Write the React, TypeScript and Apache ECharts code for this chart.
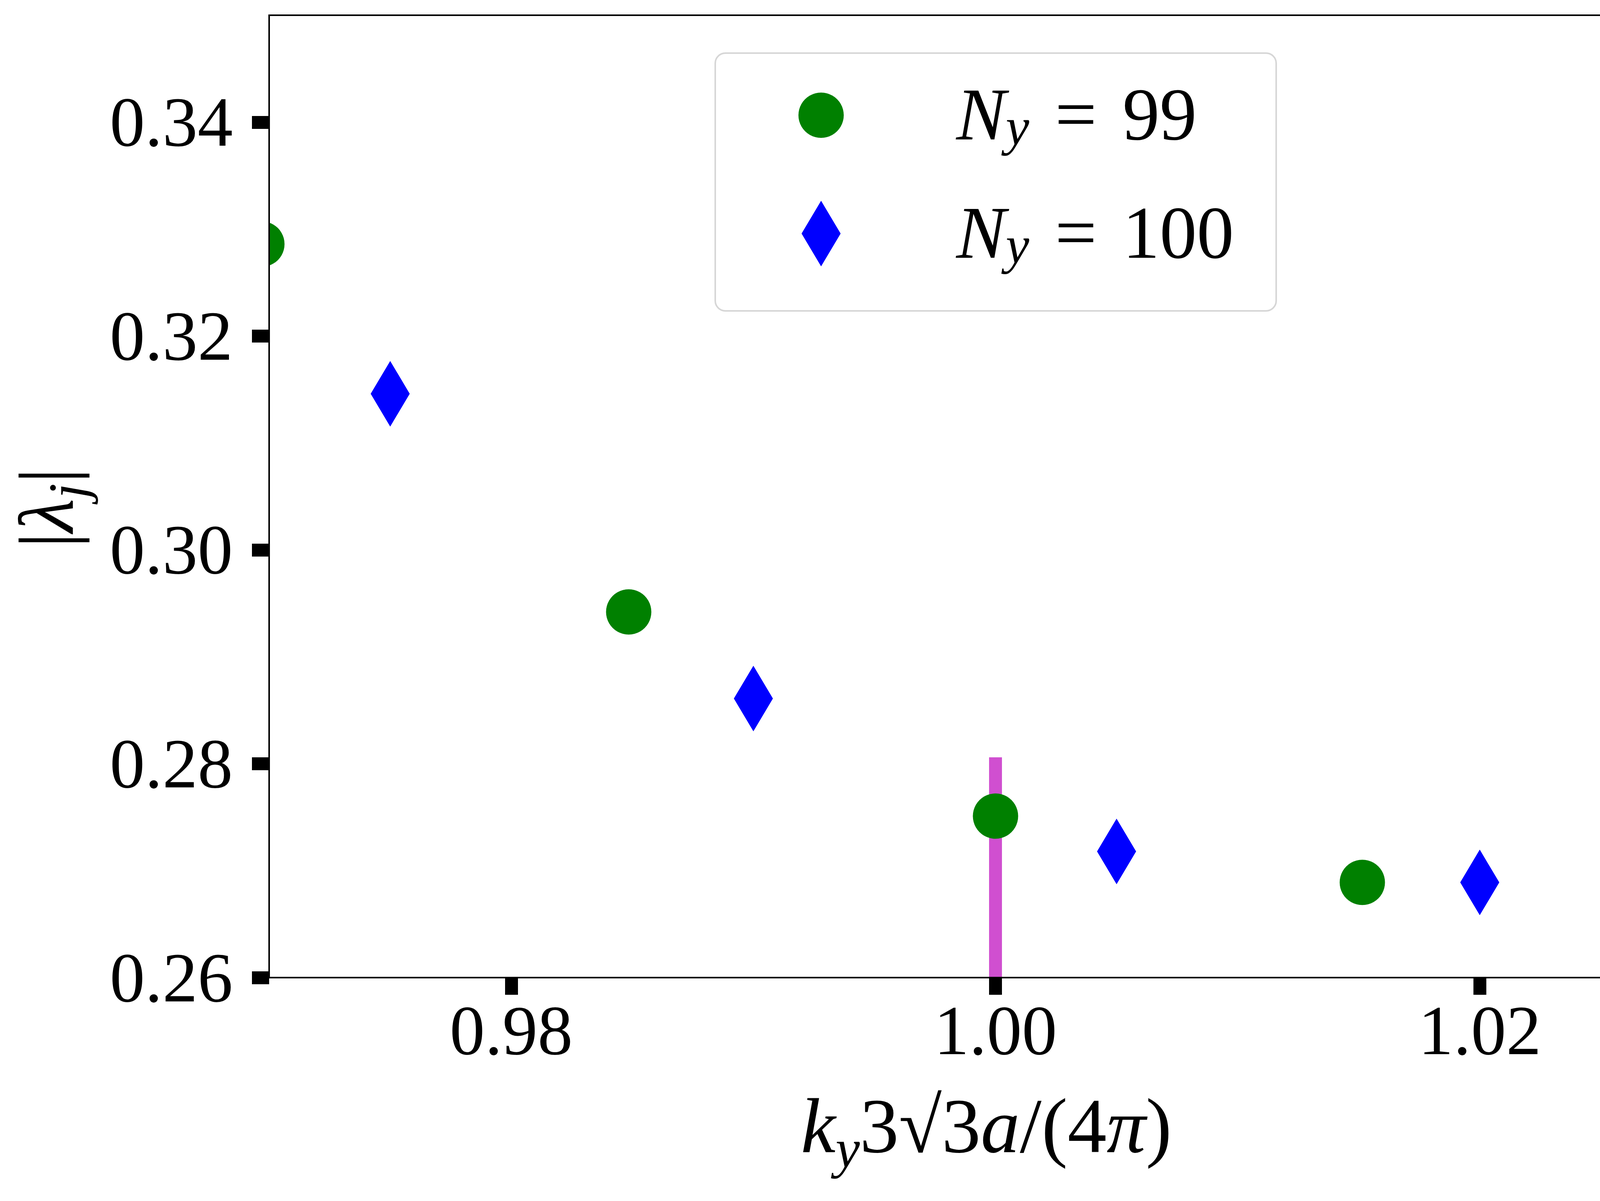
import React, { useEffect, useRef } from 'react';
import * as echarts from 'echarts';

// ---- data ----
const kyN99 = [0.9697, 0.98485, 1.0, 1.01515, 1.0303];
const lamN99 = [0.3286, 0.2942, 0.2751, 0.2689, 0.2722];
const kyN100 = [0.975, 0.99, 1.005, 1.02];
const lamN100 = [0.3146, 0.2861, 0.2718, 0.2689];
const markX = [1.0, 1.0];
const markY = [0.26, 0.2806];
const xTicks = [0.98, 1.0, 1.02];
const yTicks = [0.26, 0.28, 0.3, 0.32, 0.34];
const seriesNames = ['N_y = 99', 'N_y = 100'];
const legendValues = ['99', '100'];

const FONT = 'Liberation Serif';

export default function App() {
  const ref = useRef<HTMLDivElement>(null);
  useEffect(() => {
    document.body.style.margin = '0';
    if (!ref.current) return;
    const chart = echarts.init(ref.current, null, { renderer: 'svg' });

    const green = '#008000';
    const blue = '#0000ff';

    const option: any = {
      animation: false,
      backgroundColor: '#ffffff',
      textStyle: { fontFamily: FONT },
      grid: {
        left: 689,
        top: 39,
        width: 3719,
        height: 2464,
        show: true,
        borderColor: '#000000',
        borderWidth: 4,
        backgroundColor: 'transparent',
        z: 10,
        containLabel: false,
        outerBoundsMode: 'none',
      },
      xAxis: {
        type: 'value',
        min: 0.97,
        max: 1.03,
        splitLine: { show: false },
        axisLine: { show: false },
        axisTick: {
          show: true,
          length: 44,
          lineStyle: { width: 33, color: '#000000' },
          customValues: xTicks,
        },
        axisLabel: {
          customValues: xTicks,
          formatter: (v: number) => v.toFixed(2),
          fontFamily: FONT,
          fontSize: 180,
          lineHeight: 180,
          color: '#000000',
          margin: 45,
        },
        name: '{h| }{i|k}{s|y}{r|3√3}{i|a}{r|/(4}{i|π}{r|)}{g| }',
        nameLocation: 'middle',
        nameGap: 279,
        nameTextStyle: {
          color: '#000000',
          rich: {
            h: { width: 1, fontSize: 200, lineHeight: 228 },
            i: { fontFamily: FONT, fontStyle: 'italic', fontSize: 200, lineHeight: 200, verticalAlign: 'top', color: '#000' },
            r: { fontFamily: FONT, fontSize: 200, lineHeight: 200, verticalAlign: 'top', color: '#000' },
            s: { fontFamily: FONT, fontStyle: 'italic', fontSize: 140, lineHeight: 40, verticalAlign: 'bottom', color: '#000' },
            g: { width: 48, fontSize: 200, lineHeight: 200, verticalAlign: 'top' },
          },
        },
      },
      yAxis: {
        type: 'value',
        min: 0.26,
        max: 0.35,
        splitLine: { show: false },
        axisLine: { show: false },
        axisTick: {
          show: true,
          length: 44,
          lineStyle: { width: 33, color: '#000000' },
          customValues: yTicks,
        },
        axisLabel: {
          customValues: yTicks,
          formatter: (v: number) => v.toFixed(2),
          fontFamily: FONT,
          fontSize: 180,
          lineHeight: 180,
          padding: [0, 0, 40, 0],
          color: '#000000',
          margin: 93,
        },
        name: '{h| }{p||}{l|λ}{s|j}{p||}{g| }',
        nameLocation: 'middle',
        nameRotate: 90,
        nameGap: 446,
        nameTextStyle: {
          color: '#000000',
          rich: {
            h: { width: 1, fontSize: 200, lineHeight: 225 },
            p: { fontFamily: FONT, fontSize: 200, lineHeight: 200, verticalAlign: 'top', color: '#000' },
            l: { fontFamily: FONT, fontStyle: 'italic', fontSize: 200, lineHeight: 200, verticalAlign: 'top', color: '#000' },
            s: { fontFamily: FONT, fontStyle: 'italic', fontSize: 140, lineHeight: 40, verticalAlign: 'bottom', color: '#000' },
            g: { width: 60, fontSize: 200, lineHeight: 200, verticalAlign: 'top' },
          },
        },
      },
      legend: {
        show: true,
        orient: 'vertical',
        left: 2044,
        top: 198,
        padding: 0,
        itemWidth: 116,
        itemHeight: 168,
        itemGap: 109,
        selectedMode: false,
        symbolKeepAspect: true,
        data: [
          { name: seriesNames[0], icon: 'circle', itemStyle: { color: green } },
          { name: seriesNames[1], icon: 'path://M50,0L100,84L50,168L0,84Z', itemStyle: { color: blue } },
        ],
        formatter: (name: string) => {
          const idx = seriesNames.indexOf(name);
          return '{h| }{g| }{n|N}{s|y}{sp| }{e|=}{sp| }{e|' + legendValues[idx] + '}';
        },
        textStyle: {
          color: '#000000',
          rich: {
            h: { width: 1, fontSize: 190, lineHeight: 194 },
            g: { width: 282, fontSize: 190, lineHeight: 168, verticalAlign: 'top' },
            n: { fontFamily: FONT, fontStyle: 'italic', fontSize: 190, lineHeight: 168, verticalAlign: 'top', color: '#000' },
            s: { fontFamily: FONT, fontStyle: 'italic', fontSize: 135, lineHeight: 40, verticalAlign: 'bottom', color: '#000' },
            sp: { width: 66, fontSize: 190, lineHeight: 168, verticalAlign: 'top' },
            e: { fontFamily: FONT, fontSize: 190, lineHeight: 168, verticalAlign: 'top', color: '#000' },
          },
        },
      },
      graphic: [
        {
          type: 'rect',
          z: 3,
          shape: { x: 1831, y: 136, width: 1436, height: 660, r: 26 },
          style: { fill: 'rgba(255,255,255,0.8)', stroke: '#d6d6d6', lineWidth: 4 },
        },
      ],
      series: [
        {
          type: 'line',
          name: 'marker',
          data: markX.map((x, i) => [x, markY[i]]),
          symbol: 'none',
          lineStyle: { color: '#d04fd0', width: 33, cap: 'butt' },
          z: 2,
        },
        {
          type: 'custom',
          name: seriesNames[0],
          clip: true,
          itemStyle: { color: green },
          encode: { x: 0, y: 1 },
          data: kyN99.map((x, i) => [x, lamN99[i]]),
          renderItem: (params: any, api: any) => {
            const p = api.coord([api.value(0), api.value(1)]);
            return { type: 'circle', shape: { cx: p[0], cy: p[1], r: 58 }, style: { fill: green } };
          },
          z: 3,
        },
        {
          type: 'custom',
          name: seriesNames[1],
          clip: true,
          itemStyle: { color: blue },
          encode: { x: 0, y: 1 },
          data: kyN100.map((x, i) => [x, lamN100[i]]),
          renderItem: (params: any, api: any) => {
            const p = api.coord([api.value(0), api.value(1)]);
            const hw = 50;
            const hh = 84;
            return {
              type: 'polygon',
              shape: { points: [[p[0], p[1] - hh], [p[0] + hw, p[1]], [p[0], p[1] + hh], [p[0] - hw, p[1]]] },
              style: { fill: blue },
            };
          },
          z: 3,
        },
      ],
    };

    chart.setOption(option);
    return () => chart.dispose();
  }, []);

  return (
    <div
      ref={ref}
      style={{ position: 'absolute', left: 0, top: 0, width: 4449, height: 3075, background: '#fff' }}
    />
  );
}
